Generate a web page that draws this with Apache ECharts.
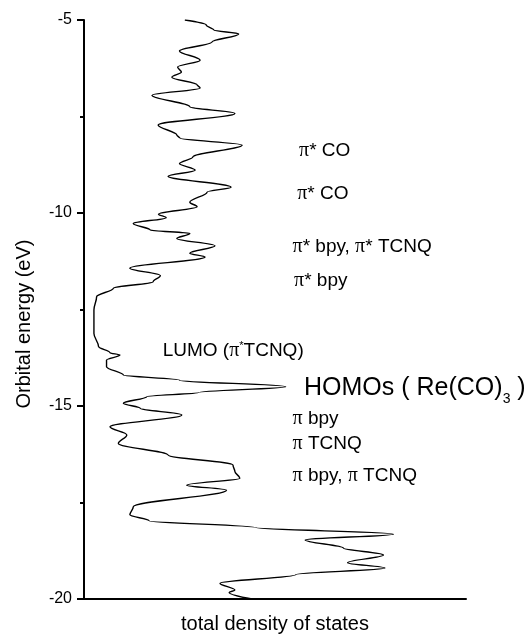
<!DOCTYPE html>
<html>
<head>
<meta charset="utf-8">
<script src="https://cdn.jsdelivr.net/npm/echarts@6/dist/echarts.min.js"></script>
<style>
html,body{margin:0;padding:0;background:#fff;}
#chart{width:532px;height:635px;}
</style>
</head>
<body>
<div id="chart"></div>
<script>
// Orbital energy (eV) and total density of states (arbitrary units, 0-100)
const energy = [
  -5.00, -5.13, -5.26, -5.36, -5.57, -5.80, -6.04, -6.22, -6.35, -6.48,
  -6.68, -6.76, -6.95, -7.25, -7.42, -7.72, -7.98, -8.06, -8.24, -8.55,
  -8.72, -8.89, -9.05, -9.33, -9.46, -9.72, -9.84, -10.03, -10.12, -10.27,
  -10.44, -10.53, -10.66, -10.85, -11.04, -11.14, -11.43, -11.62, -11.78, -11.95,
  -12.17, -12.51, -13.12, -13.46, -13.62, -13.68, -13.81, -13.98, -14.20, -14.33,
  -14.50, -14.65, -14.76, -14.93, -15.06, -15.23, -15.54, -15.75, -15.97, -16.27,
  -16.53, -16.70, -16.87, -17.05, -17.18, -17.61, -17.82, -17.97, -18.15, -18.32,
  -18.47, -18.68, -18.86, -19.06, -19.20, -19.37, -19.59, -19.77, -19.83, -20.00
];
const dos = [
  26.4, 32.0, 34.0, 40.5, 33.5, 25.0, 30.4, 24.5, 25.5, 23.0,
  29.6, 30.4, 17.8, 27.7, 39.5, 19.4, 24.3, 25.1, 41.4, 28.5,
  25.0, 29.1, 22.0, 38.5, 32.2, 27.7, 29.6, 19.5, 21.5, 12.9,
  17.3, 27.7, 24.3, 34.3, 27.7, 31.7, 12.0, 20.0, 18.1, 7.7,
  3.3, 2.6, 2.6, 3.8, 6.8, 9.4, 5.9, 5.9, 10.3, 25.0,
  52.8, 30.0, 16.4, 10.3, 14.7, 25.6, 6.8, 11.2, 9.0, 22.0,
  39.0, 39.5, 40.8, 26.9, 37.3, 12.9, 12.0, 17.0, 45.0, 81.0,
  57.9, 67.9, 78.4, 69.0, 78.8, 55.4, 35.6, 39.5, 38.0, 44.0
];
const yTicks = { min: -20, max: -5, step: 5 };

// Annotations (text, energy level, left position along density axis)
const noteText = [
  '{pi|π}* CO',
  '{pi|π}* CO',
  '{pi|π}* bpy, {pi|π}* TCNQ',
  '{pi|π}* bpy',
  'LUMO ({pi|π}{sup|*}TCNQ)',
  '{big|HOMOs ( Re(CO)}{sub|3}{big| )}',
  '{pi|π} bpy',
  '{pi|π} TCNQ',
  '{pi|π} bpy, {pi|π} TCNQ'
];
const noteEnergy = [-8.40, -9.50, -10.88, -11.76, -13.56, -14.53, -15.34, -15.99, -16.81];
const noteDos = [56.3, 55.8, 54.6, 55.0, 20.6, 57.6, 54.6, 54.6, 54.6];

const FONT = '"Liberation Sans", Arial, Helvetica, sans-serif';
const SERIF = '"Liberation Serif", "Times New Roman", serif';

const chart = echarts.init(document.getElementById('chart'), null, { renderer: 'canvas' });

const curve = energy.map((e, i) => [dos[i], e]);
const notes = noteText.map((t, i) => ({
  value: [noteDos[i], noteEnergy[i]],
  label: { formatter: t }
}));

chart.setOption({
  animation: false,
  backgroundColor: '#fff',
  textStyle: { fontFamily: FONT },
  grid: { left: 84, right: 66, top: 20, bottom: 36, containLabel: false, outerBoundsMode: 'none' },
  xAxis: {
    type: 'value', min: 0, max: 100,
    axisLine: { show: true, onZero: false, lineStyle: { color: '#000', width: 2 } },
    axisTick: { show: false }, axisLabel: { show: false }, splitLine: { show: false },
    name: 'total density of states', nameLocation: 'middle', nameGap: 15,
    nameTextStyle: { color: '#000', fontSize: 20, fontFamily: FONT }
  },
  yAxis: {
    type: 'value', min: yTicks.min, max: yTicks.max, interval: yTicks.step,
    axisLine: { show: true, onZero: false, lineStyle: { color: '#000', width: 2 } },
    axisTick: { show: true, inside: false, length: 7, lineStyle: { color: '#000', width: 2 } },
    minorTick: { show: true, splitNumber: 2, length: 4, lineStyle: { color: '#000', width: 2 } },
    axisLabel: { color: '#000', fontSize: 16, margin: 12, fontFamily: FONT },
    splitLine: { show: false }
  },
  graphic: [{
    type: 'text', x: 24, y: 324, rotation: Math.PI / 2,
    style: { text: 'Orbital energy (eV)', fontSize: 20, fontFamily: FONT, fill: '#000', align: 'center', verticalAlign: 'middle' }
  }],
  series: [{
    type: 'line', data: curve, showSymbol: false, symbol: 'none',
    smooth: 0.35, smoothMonotone: 'y',
    lineStyle: { color: '#000', width: 1.4 }
  }, {
    type: 'scatter', data: notes, symbolSize: 0, silent: true,
    itemStyle: { opacity: 1, color: '#000' },
    label: {
      show: true, position: 'right', distance: 0, color: '#000', opacity: 1,
      textBorderWidth: 0,
      fontSize: 19, fontFamily: FONT,
      rich: {
        pi: { fontFamily: SERIF, fontSize: 20, color: '#000' },
        sup: { fontSize: 11, verticalAlign: 'top', color: '#000', fontFamily: FONT },
        big: { fontSize: 25, fontFamily: FONT, color: '#000' },
        sub: { fontSize: 14, verticalAlign: 'bottom', color: '#000', fontFamily: FONT, padding: [0, 0, -6, 0] }
      }
    },
    emphasis: { disabled: true }
  }]
});
</script>
</body>
</html>
